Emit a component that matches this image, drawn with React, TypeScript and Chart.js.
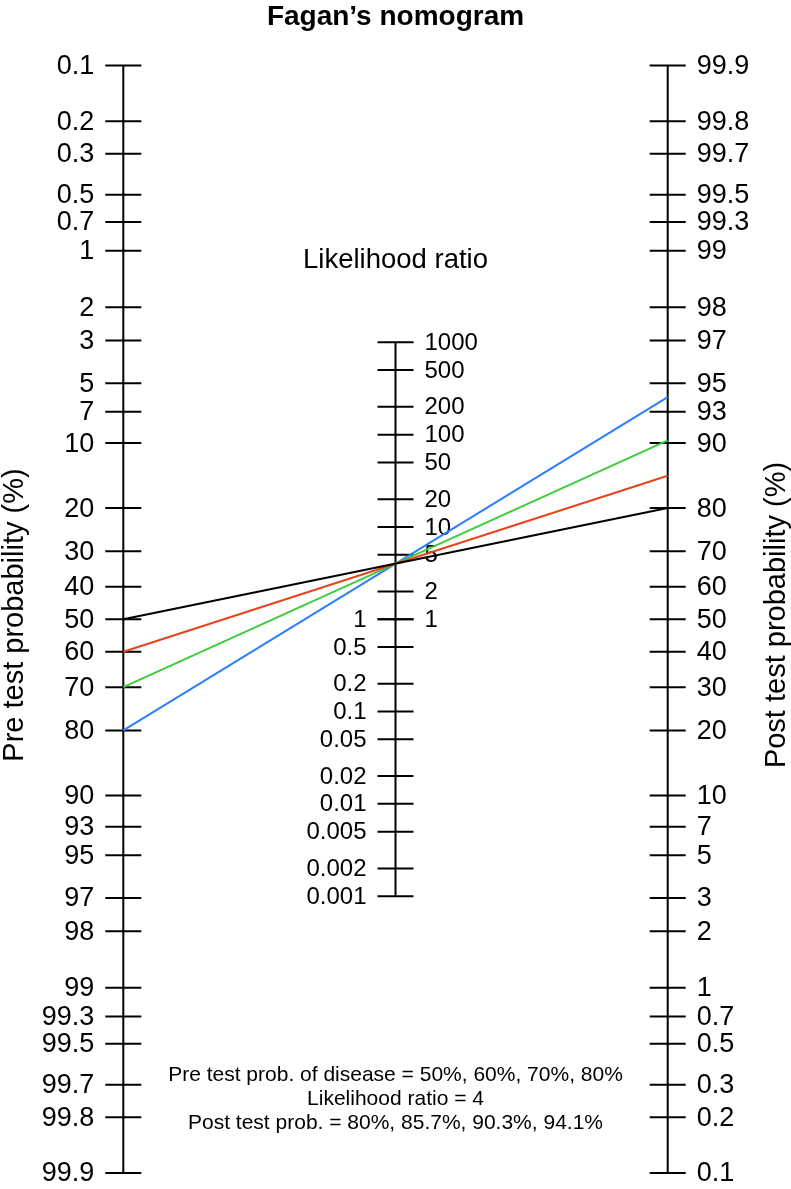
import React, { useEffect, useRef } from "react";
import { Chart, registerables } from "chart.js";

Chart.register(...registerables);

// ---- Data ----
const preTickLabels = [0.1, 0.2, 0.3, 0.5, 0.7, 1, 2, 3, 5, 7, 10, 20, 30, 40, 50, 60, 70, 80, 90, 93, 95, 97, 98, 99, 99.3, 99.5, 99.7, 99.8, 99.9];
const postTickLabels = [99.9, 99.8, 99.7, 99.5, 99.3, 99, 98, 97, 95, 93, 90, 80, 70, 60, 50, 40, 30, 20, 10, 7, 5, 3, 2, 1, 0.7, 0.5, 0.3, 0.2, 0.1];
const lrTicksUpper = [1000, 500, 200, 100, 50, 20, 10, 5, 2, 1];
const lrTicksLower = [1, 0.5, 0.2, 0.1, 0.05, 0.02, 0.01, 0.005, 0.002, 0.001];
const preTestProbs = [50, 60, 70, 80];
const postTestProbs = [80, 85.7, 90.3, 94.1];
const likelihoodRatio = 4;
const lineColors = ["#000000", "#e8441c", "#3dcc3d", "#2b7fff"];

const titleText = "Fagan\u2019s nomogram";
const lrTitle = "Likelihood ratio";
const leftTitle = "Pre test probability (%)";
const rightTitle = "Post test probability (%)";
const noteLines = [
  "Pre test prob. of disease = 50%, 60%, 70%, 80%",
  "Likelihood ratio = 4",
  "Post test prob. = 80%, 85.7%, 90.3%, 94.1%",
];

const FONT = "'Liberation Sans', Arial, Helvetica, sans-serif";
const LIM = Math.log(999); // logit of 99.9%

const logit = (pct: number) => Math.log(pct / (100 - pct));
const leftY = (pct: number) => -logit(pct);
const rightY = (pct: number) => logit(pct);
const midY = (lr: number) => Math.log(lr) / 2;

const nomogramPlugin = {
  id: "nomogram",
  beforeDatasetsDraw(chart: any) {
    const ctx = chart.ctx as CanvasRenderingContext2D;
    const xs = chart.scales.x;
    const ys = chart.scales.y;
    const xL = xs.getPixelForValue(0);
    const xR = xs.getPixelForValue(1);
    const xM = xs.getPixelForValue(0.5);
    const tick = 18;
    ctx.save();
    ctx.strokeStyle = "#000";
    ctx.fillStyle = "#000";
    ctx.lineWidth = 2;
    ctx.lineCap = "butt";

    const vline = (x: number, y0: number, y1: number) => {
      ctx.beginPath();
      ctx.moveTo(x, y0);
      ctx.lineTo(x, y1);
      ctx.stroke();
    };
    const hline = (x0: number, x1: number, y: number) => {
      ctx.beginPath();
      ctx.moveTo(x0, y);
      ctx.lineTo(x1, y);
      ctx.stroke();
    };

    // Left axis
    vline(xL, ys.getPixelForValue(leftY(preTickLabels[0])), ys.getPixelForValue(leftY(preTickLabels[preTickLabels.length - 1])));
    ctx.font = `27px ${FONT}`;
    ctx.textBaseline = "middle";
    ctx.textAlign = "right";
    preTickLabels.forEach((v) => {
      const y = ys.getPixelForValue(leftY(v));
      hline(xL - tick, xL + tick, y);
      ctx.fillText(String(v), xL - tick - 11, y + 1);
    });

    // Right axis
    vline(xR, ys.getPixelForValue(rightY(postTickLabels[0])), ys.getPixelForValue(rightY(postTickLabels[postTickLabels.length - 1])));
    ctx.textAlign = "left";
    postTickLabels.forEach((v) => {
      const y = ys.getPixelForValue(rightY(v));
      hline(xR - tick, xR + tick, y);
      ctx.fillText(String(v), xR + tick + 11, y + 1);
    });

    // Middle axis
    vline(xM, ys.getPixelForValue(midY(lrTicksUpper[0])), ys.getPixelForValue(midY(lrTicksLower[lrTicksLower.length - 1])));
    ctx.font = `24px ${FONT}`;
    ctx.textAlign = "left";
    lrTicksUpper.forEach((v) => {
      const y = ys.getPixelForValue(midY(v));
      hline(xM - tick, xM + tick, y);
      ctx.fillText(String(v), xM + tick + 11, y + 1);
    });
    ctx.textAlign = "right";
    lrTicksLower.forEach((v) => {
      const y = ys.getPixelForValue(midY(v));
      hline(xM - tick, xM + tick, y);
      ctx.fillText(String(v), xM - tick - 11, y + 1);
    });

    // Titles
    ctx.textBaseline = "alphabetic";
    ctx.textAlign = "center";
    ctx.font = `bold 28px ${FONT}`;
    ctx.fillText(titleText, xM, 25);
    ctx.font = `27.5px ${FONT}`;
    ctx.fillText(lrTitle, xM, 268);

    ctx.font = `21px ${FONT}`;
    noteLines.forEach((t, i) => {
      ctx.fillText(t, xM, 1081 + i * 24);
    });

    const yc = 615;
    ctx.font = `29px ${FONT}`;
    ctx.textBaseline = "middle";
    ctx.save();
    ctx.translate(15, yc);
    ctx.rotate(-Math.PI / 2);
    ctx.fillText(leftTitle, 0, 0);
    ctx.restore();
    ctx.save();
    ctx.translate(777, yc);
    ctx.rotate(-Math.PI / 2);
    ctx.fillText(rightTitle, 0, 0);
    ctx.restore();

    ctx.restore();
  },
};

export default function App() {
  const ref = useRef<HTMLCanvasElement | null>(null);
  useEffect(() => {
    const canvas = ref.current;
    if (!canvas) return;
    const datasets = preTestProbs.map((pre, i) => ({
      label: `${pre}%`,
      data: [
        { x: 0, y: leftY(pre) },
        { x: 1, y: rightY(postTestProbs[i]) },
      ],
      showLine: true,
      borderColor: lineColors[i],
      backgroundColor: lineColors[i],
      borderWidth: 2,
      pointRadius: 0,
      clip: false as any,
    }));
    const chart = new Chart(canvas, {
      type: "scatter",
      data: { datasets },
      options: {
        animation: false,
        responsive: false,
        devicePixelRatio: 1,
        layout: { padding: { left: 123.3, right: 123.3, top: 65.5, bottom: 16 } },
        scales: {
          x: { type: "linear", min: 0, max: 1, display: false },
          y: { type: "linear", min: -LIM, max: LIM, display: false },
        },
        plugins: { legend: { display: false }, tooltip: { enabled: false }, title: { display: false } },
        events: [],
      },
      plugins: [nomogramPlugin],
    });
    return () => chart.destroy();
  }, []);
  return (
    <div style={{ position: "absolute", left: 0, top: 0, width: 791, height: 1189, background: "#fff" }}>
      <canvas ref={ref} width={791} height={1189} style={{ display: "block" }} />
    </div>
  );
}
